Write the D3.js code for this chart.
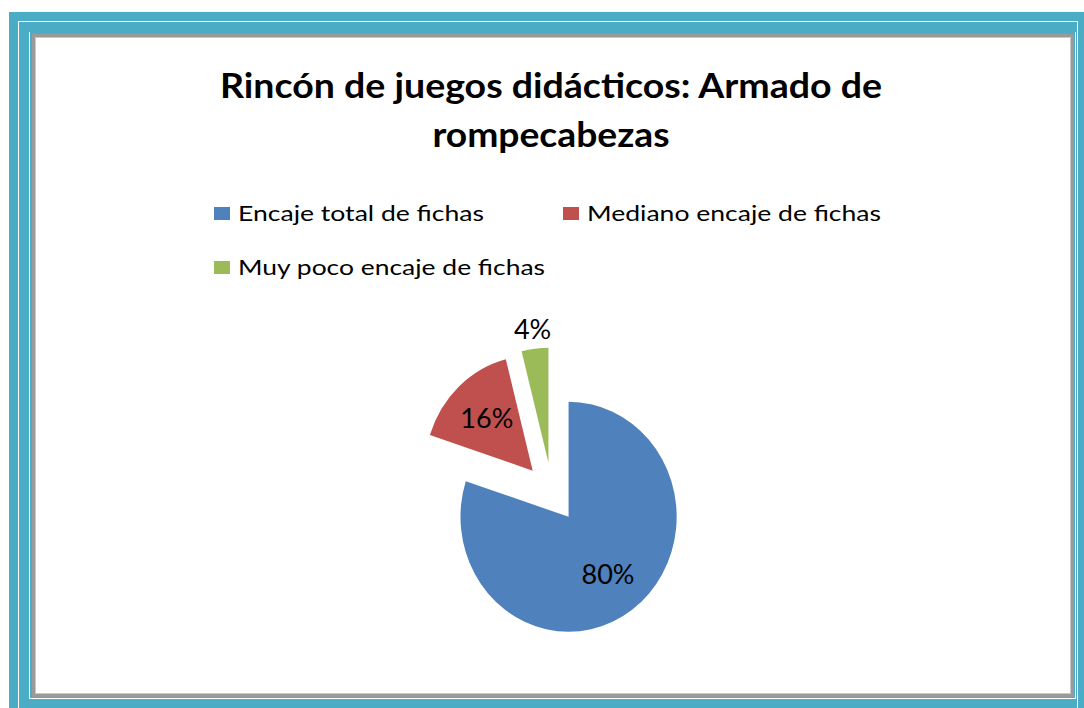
<!DOCTYPE html>
<html>
<head>
<meta charset="utf-8">
<script src="https://cdn.jsdelivr.net/npm/d3@7/dist/d3.min.js"></script>
<style>
	body { margin: 0; background: #fff; }
	text { font-family: Lato, "Open Sans", sans-serif; fill: #000; }
</style>
</head>
<body>
<svg id="chart" width="1084" height="708"></svg>
<script>
var categories = ['Encaje total de fichas', 'Mediano encaje de fichas', 'Muy poco encaje de fichas'];
var values = [80, 16, 4];
var valueLabels = ['80%', '16%', '4%'];
var colors = ['#4F81BD', '#C0504D', '#9BBB59'];
var titleLines = ['Rincón de juegos didácticos: Armado de', 'rompecabezas'];

var svg = d3.select('#chart');

// page border (teal double line + grey box)
svg.append('rect').attr('x', 9).attr('y', 12).attr('width', 1075).attr('height', 696).attr('fill', '#4BACC6');
svg.append('rect').attr('x', 18.5).attr('y', 21.5).attr('width', 1059).attr('height', 700)
	.attr('fill', 'none').attr('stroke', '#fff').attr('stroke-width', 1);
svg.append('path').attr('d', 'M29.5,32 V698.5 H1075.5 V32')
	.attr('fill', 'none').attr('stroke', '#fff').attr('stroke-width', 1);
svg.append('rect').attr('x', 32).attr('y', 34).attr('width', 1042).attr('height', 663).attr('fill', '#9a9a9a');
svg.append('rect').attr('x', 35).attr('y', 37).attr('width', 1036).attr('height', 657).attr('fill', '#c8c8c8');
svg.append('rect').attr('x', 36).attr('y', 38).attr('width', 1034).attr('height', 655).attr('fill', '#fff');

// title
var titleX = 551;
var titleLengths = [662, 237];
svg.selectAll('text.title')
	.data(titleLines)
	.enter()
	.append('text')
	.attr('class', 'title')
	.attr('x', titleX)
	.attr('y', function(d, i) { return 98 + i * 49; })
	.attr('text-anchor', 'middle')
	.attr('font-size', 35)
	.attr('font-weight', 'bold')
	.attr('textLength', function(d, i) { return titleLengths[i]; })
	.attr('lengthAdjust', 'spacingAndGlyphs')
	.text(function(d) { return d; });

// legend
var legendPos = [[214, 221], [563, 221], [214, 275]];
var legendLengths = [246, 294, 307];
var legend = svg.selectAll('g.legend')
	.data(categories)
	.enter()
	.append('g')
	.attr('class', 'legend')
	.attr('transform', function(d, i) {
		return 'translate(' + legendPos[i][0] + ',' + legendPos[i][1] + ')';
	});
legend.append('rect')
	.attr('x', 0).attr('y', -14)
	.attr('width', 16).attr('height', 13)
	.attr('fill', function(d, i) { return colors[i]; });
legend.append('text')
	.attr('x', 24).attr('y', 0)
	.attr('font-size', 21)
	.attr('textLength', function(d, i) { return legendLengths[i]; })
	.attr('lengthAdjust', 'spacingAndGlyphs')
	.text(function(d) { return d; });

// pie: every slice pulled out from the centre
var cx = 552, cy = 492.5, radius = 115, squeeze = 0.94, explode = 30;
var labelRadius = [0.62, 0.62, 1.17];

var pie = d3.pie().sort(null).value(function(d) { return d; });
var arc = d3.arc().innerRadius(0).outerRadius(radius);
var arcs = pie(values);

function offsetOf(a, dist) {
	var mid = (a.startAngle + a.endAngle) / 2;
	return [Math.sin(mid) * dist, -Math.cos(mid) * dist];
}

var pieGroup = svg.append('g')
	.attr('transform', 'translate(' + cx + ',' + cy + ') scale(' + squeeze + ',1)');

pieGroup.selectAll('path')
	.data(arcs)
	.enter()
	.append('path')
	.attr('transform', function(d) {
		var o = offsetOf(d, explode);
		return 'translate(' + o[0] + ',' + o[1] + ')';
	})
	.attr('d', arc)
	.attr('fill', function(d, i) { return colors[i]; });

svg.selectAll('text.value')
	.data(arcs)
	.enter()
	.append('text')
	.attr('class', 'value')
	.attr('x', function(d, i) {
		var o = offsetOf(d, explode + radius * labelRadius[i]);
		return cx + o[0] * squeeze;
	})
	.attr('y', function(d, i) {
		var o = offsetOf(d, explode + radius * labelRadius[i]);
		return cy + o[1];
	})
	.attr('dy', '0.36em')
	.attr('text-anchor', 'middle')
	.attr('font-size', 27)
	.text(function(d, i) { return valueLabels[i]; });
</script>
</body>
</html>
